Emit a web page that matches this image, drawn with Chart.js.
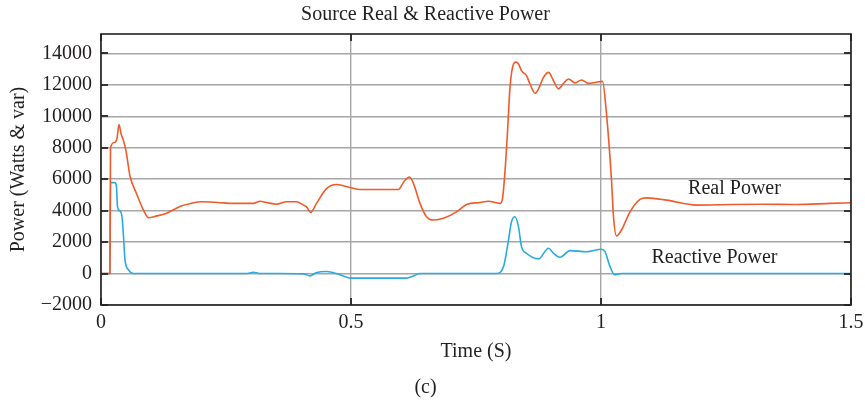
<!DOCTYPE html>
<html>
<head>
<meta charset="utf-8">
<script src="https://cdn.jsdelivr.net/npm/chart.js@4/dist/chart.umd.min.js"></script>
<style>
  html, body { margin: 0; padding: 0; background: #fff; }
  #wrap { width: 865px; height: 404px; }
</style>
</head>
<body>
<div id="wrap"><canvas id="myChart"></canvas></div>
<script>
// time (s) and power values
var realTime = [0, 0.0179, 0.019, 0.028, 0.032, 0.036, 0.040, 0.045, 0.050, 0.058, 0.071, 0.085, 0.095,
  0.110, 0.130, 0.160, 0.180, 0.200, 0.233, 0.265, 0.305, 0.318, 0.331, 0.351, 0.371, 0.391, 0.405,
  0.411, 0.419, 0.431, 0.451, 0.471, 0.498, 0.518, 0.595, 0.603, 0.608, 0.617, 0.625, 0.638, 0.651,
  0.665, 0.685, 0.711, 0.731, 0.758, 0.775, 0.798, 0.803, 0.808, 0.813, 0.818, 0.825, 0.830, 0.835,
  0.841, 0.851, 0.858, 0.868, 0.875, 0.885, 0.895, 0.905, 0.915, 0.925, 0.935, 0.948, 0.961, 0.975,
  0.988, 1.003, 1.011, 1.021, 1.025, 1.031, 1.041, 1.058, 1.078, 1.091, 1.131, 1.191, 1.258, 1.325,
  1.391, 1.458, 1.5];
var realPower = [0, 0, 8000, 8350, 8600, 9480, 8900, 8450, 7800, 6200, 5090, 4030, 3550,
  3650, 3820, 4290, 4460, 4560, 4520, 4460, 4460, 4600, 4520, 4410, 4560, 4560, 4350,
  4240, 3890, 4460, 5400, 5660, 5470, 5340, 5340, 5700, 5930, 6140, 5720, 4460, 3610,
  3400, 3510, 3920, 4390, 4520, 4600, 4460, 4770, 6500, 9000, 11840, 13320, 13460, 13320,
  12900, 12580, 12050, 11460, 11740, 12470, 12790, 12260, 11740, 12090, 12370, 12120, 12310, 12090,
  12150, 12220, 10150, 5930, 3610, 2390, 2770, 3920, 4710, 4810, 4670, 4350, 4390, 4410,
  4390, 4460, 4500];

var reactiveTime = [0, 0.0179, 0.019, 0.028, 0.031, 0.033, 0.038, 0.042, 0.045, 0.048, 0.055, 0.065,
  0.290, 0.305, 0.320, 0.358, 0.405, 0.418, 0.430, 0.451, 0.471, 0.490, 0.501, 0.611, 0.625, 0.638,
  0.791, 0.805, 0.815, 0.821, 0.828, 0.835, 0.841, 0.851, 0.875, 0.895, 0.905, 0.918, 0.938, 0.971,
  1.001, 1.008, 1.018, 1.027, 1.040, 1.5];
var reactivePower = [0, 0, 5780, 5780, 5510, 4240, 3970, 3610, 2340, 870, 230, 0,
  0, 80, 0, 0, -20, -150, 50, 130, 0, -220, -290, -290, -150, 0,
  0, 440, 2130, 3290, 3610, 2970, 1710, 1290, 930, 1610, 1290, 1040, 1460, 1390,
  1540, 1390, 440, -80, 0, 0];

var xTicks = [0, 0.5, 1, 1.5];
var yTicks = [-2000, 0, 2000, 4000, 6000, 8000, 10000, 12000, 14000];

var seriesNames = ['Real Power', 'Reactive Power'];
// where the two curve labels sit, in data units
var labelSpots = [{ x: 1.267, y: 5400 }, { x: 1.227, y: 1000 }];

function toPoints(ts, vs) {
  return ts.map(function (t, i) { return { x: t, y: vs[i] }; });
}

var serif = "'Liberation Serif', 'Times New Roman', serif";
var ink = '#231f20';

var frameAndLabels = {
  id: 'frameAndLabels',
  afterDatasetsDraw: function (chart) {
    var c = chart.ctx, a = chart.chartArea;
    var xs = chart.scales.x, ys = chart.scales.y;
    c.save();
    // inward tick marks
    c.strokeStyle = '#333';
    c.lineWidth = 2;
    c.beginPath();
    yTicks.forEach(function (v) {
      var py = Math.round(ys.getPixelForValue(v));
      c.moveTo(a.left, py); c.lineTo(a.left + 7, py);
      c.moveTo(a.right, py); c.lineTo(a.right - 7, py);
    });
    xTicks.forEach(function (v) {
      var px = Math.round(xs.getPixelForValue(v));
      c.moveTo(px, a.bottom); c.lineTo(px, a.bottom - 7);
      c.moveTo(px, a.top); c.lineTo(px, a.top + 7);
    });
    c.stroke();
    // box
    c.strokeStyle = '#222';
    c.lineWidth = 1.6;
    c.strokeRect(a.left, a.top, a.right - a.left, a.bottom - a.top);
    // curve labels
    c.fillStyle = ink;
    c.font = '20px ' + serif;
    c.textAlign = 'center';
    c.textBaseline = 'middle';
    seriesNames.forEach(function (n, i) {
      c.fillText(n, xs.getPixelForValue(labelSpots[i].x), ys.getPixelForValue(labelSpots[i].y));
    });
    c.restore();
  }
};

var ctx = document.getElementById('myChart').getContext('2d');

var data = {
  datasets: [{
    label: seriesNames[0],
    data: toPoints(realTime, realPower),
    borderColor: '#f15a29',
    borderWidth: 1.6,
    pointRadius: 0,
    cubicInterpolationMode: 'monotone',
    fill: false
  }, {
    label: seriesNames[1],
    data: toPoints(reactiveTime, reactivePower),
    borderColor: '#29abe2',
    borderWidth: 1.6,
    pointRadius: 0,
    cubicInterpolationMode: 'monotone',
    fill: false
  }]
};

var options = {
  responsive: true,
  maintainAspectRatio: false,
  animation: false,
  layout: { padding: { left: 0, right: 14, top: 0, bottom: 0 } },
  plugins: {
    legend: { display: false },
    tooltip: { enabled: false },
    title: {
      display: true,
      text: 'Source Real & Reactive Power',
      color: ink,
      font: { family: serif, size: 20, weight: 'normal' },
      padding: { top: 3, bottom: 7 }
    },
    subtitle: {
      display: true,
      position: 'bottom',
      text: '(c)',
      color: ink,
      font: { family: serif, size: 20, weight: 'normal' },
      padding: { top: 0, bottom: 4 }
    }
  },
  scales: {
    x: {
      type: 'linear',
      min: 0,
      max: 1.5,
      afterBuildTicks: function (s) { s.ticks = xTicks.map(function (v) { return { value: v }; }); },
      afterFit: function (s) { s.height = 71; s.paddingLeft = 0; s.paddingRight = 0; },
      grid: { color: '#a6a6a6', lineWidth: 1.4, drawTicks: false },
      border: { display: false },
      ticks: {
        color: ink,
        padding: 6,
        maxRotation: 0,
        font: { family: serif, size: 20 },
        callback: function (v) { return String(v); }
      },
      title: {
        display: true,
        text: 'Time (S)',
        color: ink,
        font: { family: serif, size: 20 },
        padding: { top: 0, bottom: 12 }
      }
    },
    y: {
      min: -2000,
      max: 15230,
      afterBuildTicks: function (s) { s.ticks = yTicks.map(function (v) { return { value: v }; }); },
      afterFit: function (s) { s.width = 101; s.paddingTop = 0; s.paddingBottom = 0; },
      grid: { color: '#a6a6a6', lineWidth: 1.4, drawTicks: false },
      border: { display: false },
      ticks: {
        color: ink,
        padding: 9,
        font: { family: serif, size: 20 },
        callback: function (v) { return v < 0 ? '\u2212' + Math.abs(v) : String(v); }
      },
      title: {
        display: true,
        text: 'Power (Watts & var)',
        color: ink,
        font: { family: serif, size: 20 },
        padding: { top: 7, bottom: 0 }
      }
    }
  }
};

var myChart = new Chart(ctx, {
  type: 'line',
  data: data,
  options: options,
  plugins: [frameAndLabels]
});
</script>
</body>
</html>
